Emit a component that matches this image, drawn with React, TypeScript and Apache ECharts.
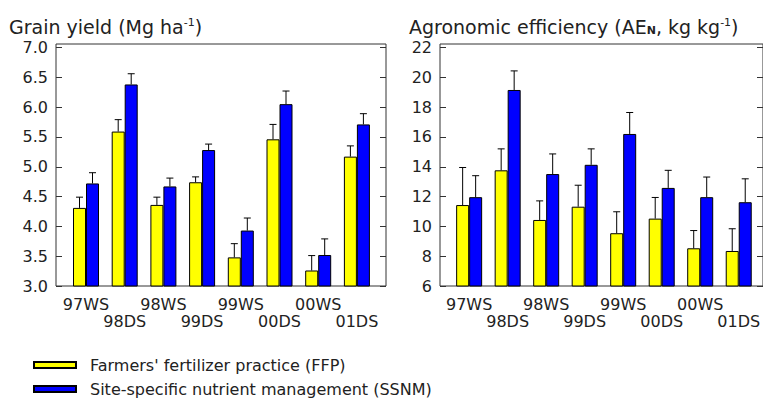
import React, { useEffect, useRef } from "react";
import * as echarts from "echarts";

const categories = ["97WS", "98DS", "98WS", "99DS", "99WS", "00DS", "00WS", "01DS"];

// Grain yield (Mg ha-1)
const yieldFFP = [4.31, 5.59, 4.36, 4.74, 3.48, 5.46, 3.26, 5.17];
const yieldFFPErr = [0.18, 0.2, 0.13, 0.09, 0.23, 0.25, 0.25, 0.18];
const yieldSSNM = [4.72, 6.38, 4.67, 5.28, 3.93, 6.05, 3.52, 5.71];
const yieldSSNMErr = [0.18, 0.18, 0.14, 0.1, 0.21, 0.22, 0.27, 0.18];
const yieldTicks = { min: 3, max: 7, interval: 0.5 };

// Agronomic efficiency (kg kg-1)
const aeFFP = [11.43, 13.76, 10.43, 11.32, 9.54, 10.52, 8.53, 8.35];
const aeFFPErr = [2.52, 1.44, 1.28, 1.44, 1.44, 1.42, 1.19, 1.49];
const aeSSNM = [11.96, 19.15, 13.51, 14.13, 16.2, 12.58, 11.96, 11.62];
const aeSSNMErr = [1.44, 1.28, 1.35, 1.07, 1.44, 1.18, 1.35, 1.57];
const aeTicks = { min: 6, max: 22, interval: 2 };

const seriesNames = ["Farmers' fertilizer practice (FFP)", "Site-specific nutrient management (SSNM)"];
const seriesColors = ["#ffff00", "#0000ff"];

const FONT = "DejaVu Sans, sans-serif";
const TXT = "#222";
const BAR_W = 13;

function errorSeries(vals: number[], errs: number[], offset: number, xi: number, yi: number) {
  return {
    type: "custom",
    xAxisIndex: xi,
    yAxisIndex: yi,
    z: 5,
    silent: true,
    data: vals.map((v, i) => [i, v, errs[i]]),
    encode: { x: 0, y: 1 },
    renderItem: (_p: any, api: any) => {
      const i = api.value(0);
      const v = api.value(1);
      const e = api.value(2);
      const b = api.coord([i, v]);
      const t = api.coord([i, v + e]);
      const x = b[0] + offset;
      const st = { stroke: "#000", lineWidth: 1 };
      return {
        type: "group",
        children: [
          { type: "line", shape: { x1: x, y1: b[1], x2: x, y2: t[1] }, style: st },
          { type: "line", shape: { x1: x - 3.5, y1: t[1], x2: x + 3.5, y2: t[1] }, style: st },
        ],
      };
    },
  };
}

function barSeries(name: string, color: string, vals: number[], xi: number, yi: number) {
  return {
    type: "bar",
    name,
    xAxisIndex: xi,
    yAxisIndex: yi,
    barWidth: BAR_W,
    barGap: "0%",
    data: vals,
    itemStyle: { color, borderColor: "#000", borderWidth: 1 },
    z: 3,
  };
}

export default function App() {
  const ref = useRef<HTMLDivElement>(null);
  useEffect(() => {
    if (!ref.current) return;
    const chart = echarts.init(ref.current, null, { renderer: "svg" });

    const frameTop = 44;
    const axTop = 47.5;
    const axBottom = 398 - 286;

    const catAxisLabel = {
      interval: 0,
      fontSize: 16,
      fontFamily: FONT,
      color: TXT,
      lineHeight: 17,
      margin: 10,
      formatter: (v: string, i: number) => (i % 2 ? "\n" + v : v),
    };

    const yLabel = (fmt: (v: number) => string) => ({
      fontSize: 16,
      fontFamily: FONT,
      color: TXT,
      margin: 8,
      formatter: fmt,
    });

    const tick = { show: true, inside: true, length: 6, lineStyle: { color: "#333", width: 1 } };

    const titleRich = {
      sup: { fontSize: 11, verticalAlign: "top", fontFamily: FONT, color: TXT, padding: [0, 0, 8, 0] },
      sub: { fontSize: 11, verticalAlign: "bottom", fontFamily: FONT, color: TXT, fontWeight: "bold" },
    };

    const option: any = {
      animation: false,
      backgroundColor: "#fff",
      title: [
        {
          text: "Grain yield (Mg ha{sup|-1})",
          left: 9,
          top: 17,
          padding: 0,
          textStyle: { fontSize: 19, fontWeight: "normal", fontFamily: FONT, color: TXT, rich: titleRich },
        },
        {
          text: "Agronomic efficiency (AE{sub|N}, kg kg{sup|-1})",
          left: 409,
          top: 17,
          padding: 0,
          textStyle: { fontSize: 19, fontWeight: "normal", fontFamily: FONT, color: TXT, rich: titleRich },
        },
      ],
      legend: {
        data: seriesNames,
        orient: "vertical",
        left: 33,
        top: 357,
        height: 80,
        padding: 0,
        itemWidth: 42,
        itemHeight: 6,
        itemGap: 8,
        icon: "rect",
        textStyle: { fontSize: 16, fontFamily: FONT, color: TXT, padding: [0, 0, 0, 9] },
      },
      grid: [
        // left chart
        { left: 56, top: frameTop, width: 330, bottom: axBottom, show: true, borderColor: "#333", borderWidth: 1 },
        { left: 56, top: axTop, width: 330, bottom: axBottom },
        { left: 66.65, top: axTop, width: 309.6, bottom: axBottom },
        // right chart
        { left: 440, top: frameTop, width: 330, bottom: axBottom, show: true, borderColor: "#333", borderWidth: 1 },
        { left: 440, top: axTop, width: 330, bottom: axBottom },
        { left: 449.9, top: axTop, width: 310.4, bottom: axBottom },
      ],
      xAxis: [
        { type: "category", gridIndex: 0, data: categories, show: false },
        { type: "category", gridIndex: 1, data: categories, show: false },
        {
          type: "category",
          gridIndex: 2,
          data: categories,
          axisLine: { show: false },
          axisTick: { show: false },
          axisLabel: catAxisLabel,
        },
        { type: "category", gridIndex: 3, data: categories, show: false },
        { type: "category", gridIndex: 4, data: categories, show: false },
        {
          type: "category",
          gridIndex: 5,
          data: categories,
          axisLine: { show: false },
          axisTick: { show: false },
          axisLabel: catAxisLabel,
        },
      ],
      yAxis: [
        { type: "value", gridIndex: 0, min: 0, max: 1, show: false },
        {
          type: "value",
          gridIndex: 1,
          ...yieldTicks,
          axisLine: { show: false },
          axisTick: tick,
          splitLine: { show: false },
          axisLabel: yLabel((v) => v.toFixed(1)),
        },
        {
          type: "value",
          gridIndex: 1,
          position: "right",
          ...yieldTicks,
          axisLine: { show: false },
          axisTick: tick,
          splitLine: { show: false },
          axisLabel: { show: false },
        },
        { type: "value", gridIndex: 2, ...yieldTicks, show: false, splitLine: { show: false } },
        { type: "value", gridIndex: 3, min: 0, max: 1, show: false },
        {
          type: "value",
          gridIndex: 4,
          ...aeTicks,
          axisLine: { show: false },
          axisTick: tick,
          splitLine: { show: false },
          axisLabel: yLabel((v) => String(v)),
        },
        {
          type: "value",
          gridIndex: 4,
          position: "right",
          ...aeTicks,
          axisLine: { show: false },
          axisTick: tick,
          splitLine: { show: false },
          axisLabel: { show: false },
        },
        { type: "value", gridIndex: 5, ...aeTicks, show: false, splitLine: { show: false } },
      ],
      series: [
        barSeries(seriesNames[0], seriesColors[0], yieldFFP, 2, 3),
        barSeries(seriesNames[1], seriesColors[1], yieldSSNM, 2, 3),
        errorSeries(yieldFFP, yieldFFPErr, -BAR_W / 2, 2, 3),
        errorSeries(yieldSSNM, yieldSSNMErr, BAR_W / 2, 2, 3),
        barSeries(seriesNames[0], seriesColors[0], aeFFP, 5, 7),
        barSeries(seriesNames[1], seriesColors[1], aeSSNM, 5, 7),
        errorSeries(aeFFP, aeFFPErr, -BAR_W / 2, 5, 7),
        errorSeries(aeSSNM, aeSSNMErr, BAR_W / 2, 5, 7),
      ],
    };

    chart.setOption(option);
    return () => chart.dispose();
  }, []);

  return (
    <div
      ref={ref}
      style={{ position: "fixed", left: 0, top: 0, width: 763, height: 398, background: "#fff" }}
    />
  );
}
